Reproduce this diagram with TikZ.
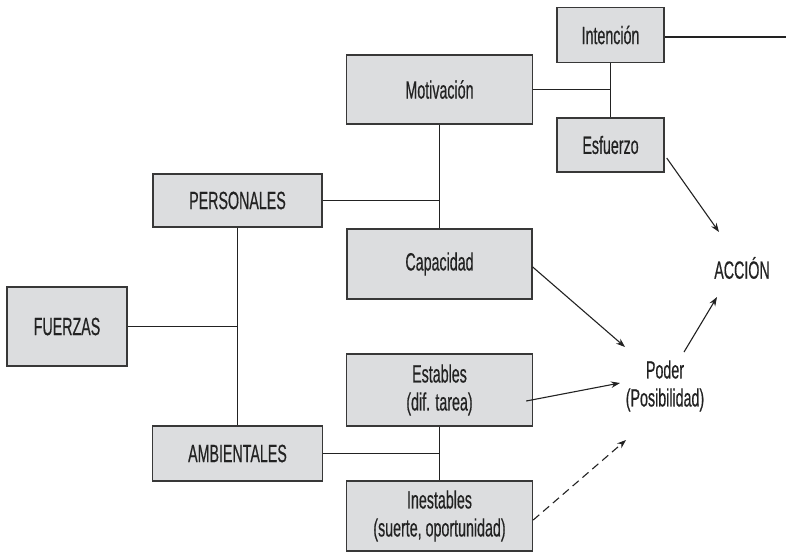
\documentclass[tikz,border=0pt]{standalone}
\usepackage{fontspec}
\setmainfont{Liberation Sans}[FakeStretch=0.57,FakeBold=0.45]
\usetikzlibrary{arrows.meta,calc}
\definecolor{boxfill}{HTML}{DCDDDF}
\definecolor{boxline}{HTML}{383838}
\definecolor{ink}{HTML}{222222}
\begin{document}
\begin{tikzpicture}[x=1pt,y=-1pt,
  every node/.style={text=ink,font=\fontsize{25}{28}\selectfont,align=center,inner sep=0pt},
  gbox/.style={draw=boxline,fill=boxfill,line width=1.4pt},
  link/.style={draw=ink,line width=1.1pt},
  arr/.style={link,-{Stealth[length=9pt,width=6.5pt]}},
  darr/.style={arr,dash pattern=on 8pt off 5pt}]
\useasboundingbox (0,0) rectangle (786,552);
% boxes
\node[gbox,minimum width=107pt,minimum height=55pt] (int) at (610.5,35) {Intención};
\node[gbox,minimum width=186pt,minimum height=69pt] (mot) at (439.5,89.5) {Motivación};
\node[gbox,minimum width=107pt,minimum height=54pt] (esf) at (610.5,145) {Esfuerzo};
\node[gbox,minimum width=169pt,minimum height=53pt] (per) at (237.5,200.5) {PERSONALES};
\node[gbox,minimum width=185pt,minimum height=70pt] (cap) at (439.5,264) {Capacidad};
\node[gbox,minimum width=120pt,minimum height=79pt] (fue) at (67,326.5) {FUERZAS};
\node[gbox,minimum width=186pt,minimum height=72pt] (est) at (439.5,390) {Estables\\(dif. tarea)};
\node[gbox,minimum width=170pt,minimum height=55pt] (amb) at (237.5,453.5) {AMBIENTALES};
\node[gbox,minimum width=186pt,minimum height=70pt] (ine) at (439.5,516) {Inestables\\(suerte, oportunidad)};
% free text
\node (acc) at (742,268) {ACCIÓN};
\node (pod) at (665,386) {Poder\\(Posibilidad)};
% coordinates
\coordinate (right) at (786,37);
% tree connectors
\draw[link] (int.east |- right) -- (right);
\draw[link] (int.south) -- (esf.north);
\draw[link] (mot.east) -- (mot.east -| int.south);
\draw[link] (mot.south) -- (cap.north);
\draw[link] (per.east) -- (per.east -| mot.south);
\draw[link] (per.south) -- (amb.north);
\draw[link] (fue.east) -- (fue.east -| per.south);
\draw[link] (est.south) -- (ine.north);
\draw[link] (amb.east) -- (amb.east -| est.south);
% arrows
\draw[arr] ($(esf.east)+(2,13)$) -- ($(acc)+(-23,-36)$);
\draw[arr] ($(cap.east)+(0,3)$) -- ($(pod)+(-40,-39)$);
\draw[arr] ($(est.east)+(-7,11)$) -- ($(pod)+(-45,-3)$);
\draw[darr] ($(ine.east)+(0,4)$) -- ($(pod)+(-39,54)$);
\draw[arr] ($(pod)+(19,-34)$) -- ($(acc)+(-25,29)$);
\end{tikzpicture}
\end{document}
